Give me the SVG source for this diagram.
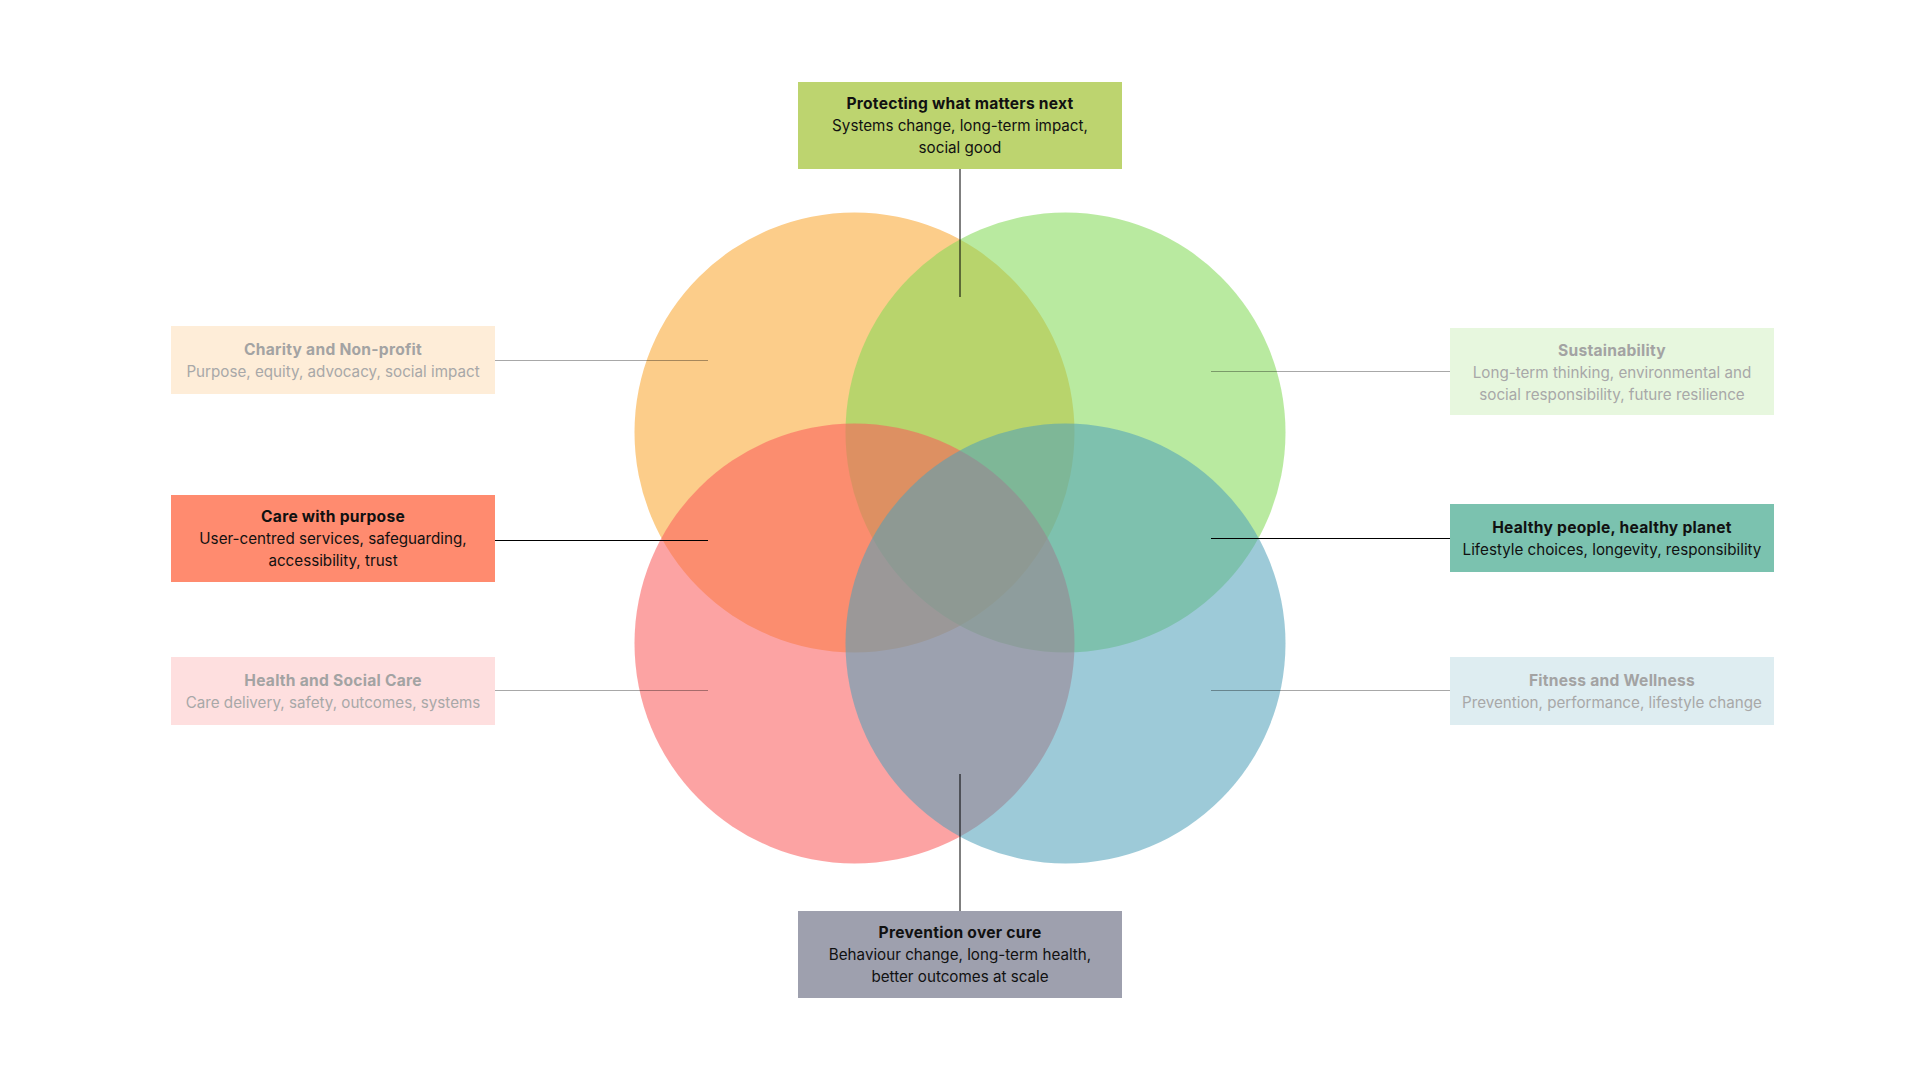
<svg xmlns="http://www.w3.org/2000/svg" width="1920" height="1080" viewBox="0 0 1920 1080">
<style>
text{font-family:Inter,"Liberation Sans",sans-serif;font-size:15.2px;text-anchor:middle}
.t{font-weight:700;font-size:15.6px;letter-spacing:0.25px;fill:#111}
.s{fill:#111}
.ft{font-weight:700;font-size:15.6px;letter-spacing:0.25px;fill:#a3a3a3}
.fs{fill:#a8a8a8}
.c{fill-opacity:0.56}
.la{stroke:#000;stroke-width:1;fill:none}
.lf{stroke:#000;stroke-opacity:0.34;stroke-width:1;fill:none}
</style>
<rect width="1920" height="1080" fill="#fff"/>
<g id="circles">
<circle id="c-orange" cx="854.5" cy="432.5" r="220" fill="#FCCD8A"/>
<circle id="c-green" class="c" cx="1065.5" cy="432.5" r="220" fill="#82DA55"/>
<circle id="c-red" class="c" cx="854.5" cy="643.5" r="220" fill="#FA5B5B"/>
<circle id="c-blue" class="c" cx="1065.5" cy="643.5" r="220" fill="#50A0B9"/>
</g>
<g id="connectors">
<line class="la" x1="960" y1="169" x2="960" y2="297"/>
<line class="la" x1="960" y1="774" x2="960" y2="911"/>
<line class="lf" x1="495" y1="360.5" x2="708" y2="360.5"/>
<line class="la" x1="495" y1="540.5" x2="708" y2="540.5"/>
<line class="lf" x1="495" y1="690.5" x2="708" y2="690.5"/>
<line class="lf" x1="1211" y1="371.5" x2="1450" y2="371.5"/>
<line class="la" x1="1211" y1="538.5" x2="1450" y2="538.5"/>
<line class="lf" x1="1211" y1="690.5" x2="1450" y2="690.5"/>
</g>
<g id="top">
<rect x="798" y="82" width="324" height="87" fill="#BDD46F"/>
<text class="t" x="960" y="109">Protecting what matters next</text>
<text class="s" x="960" y="131">Systems change, long-term impact,</text>
<text class="s" x="960" y="153">social good</text>
</g>
<g id="charity">
<rect x="171" y="326" width="324" height="68" fill="#FEEDD8"/>
<text class="ft" x="333" y="355">Charity and Non-profit</text>
<text class="fs" x="333" y="377">Purpose, equity, advocacy, social impact</text>
</g>
<g id="care">
<rect x="171" y="495" width="324" height="87" fill="#FF8B6F"/>
<text class="t" x="333" y="522">Care with purpose</text>
<text class="s" x="333" y="544">User-centred services, safeguarding,</text>
<text class="s" x="333" y="566">accessibility, trust</text>
</g>
<g id="health">
<rect x="171" y="657" width="324" height="68" fill="#FEDFDF"/>
<text class="ft" x="333" y="686">Health and Social Care</text>
<text class="fs" x="333" y="708">Care delivery, safety, outcomes, systems</text>
</g>
<g id="sustainability">
<rect x="1450" y="328" width="324" height="87" fill="#E7F7DE"/>
<text class="ft" x="1612" y="356">Sustainability</text>
<text class="fs" x="1612" y="378">Long-term thinking, environmental and</text>
<text class="fs" x="1612" y="400">social responsibility, future resilience</text>
</g>
<g id="healthy">
<rect x="1450" y="504" width="324" height="68" fill="#7BC2AF"/>
<text class="t" x="1612" y="533">Healthy people, healthy planet</text>
<text class="s" x="1612" y="555">Lifestyle choices, longevity, responsibility</text>
</g>
<g id="fitness">
<rect x="1450" y="657" width="324" height="68" fill="#DEEDF1"/>
<text class="ft" x="1612" y="686">Fitness and Wellness</text>
<text class="fs" x="1612" y="708">Prevention, performance, lifestyle change</text>
</g>
<g id="bottom">
<rect x="798" y="911" width="324" height="87" fill="#9EA0AE"/>
<text class="t" x="960" y="938">Prevention over cure</text>
<text class="s" x="960" y="960">Behaviour change, long-term health,</text>
<text class="s" x="960" y="982">better outcomes at scale</text>
</g>
</svg>
